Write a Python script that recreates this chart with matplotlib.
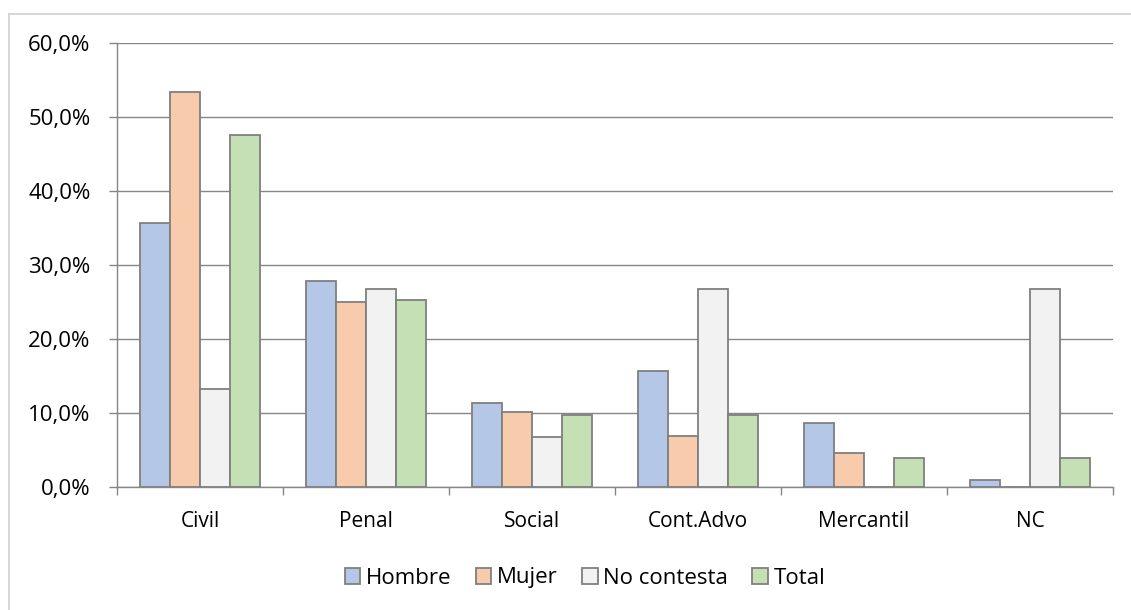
import numpy as np
import matplotlib.pyplot as plt
from matplotlib.lines import Line2D
from matplotlib.ticker import FuncFormatter

plt.rcParams['font.family'] = ['Open Sans', 'DejaVu Sans']

# data (percent)
categories = ['Civil', 'Penal', 'Social', 'Cont.Advo', 'Mercantil', 'NC']
series_names = ['Hombre', 'Mujer', 'No contesta', 'Total']
hombre = [35.7, 27.8, 11.3, 15.7, 8.7, 0.9]
mujer = [53.4, 25.0, 10.2, 6.9, 4.6, 0.0]
no_contesta = [13.3, 26.7, 6.7, 26.7, 0.0, 26.7]
total = [47.6, 25.3, 9.7, 9.7, 3.9, 3.9]
colors = ['#b4c7e7', '#f8cbad', '#f2f2f2', '#c5e0b4']

fig = plt.figure(figsize=(11.31, 6.10), dpi=100)
ax = fig.add_axes([117/1131, 1-487/610, (1113-117)/1131, (487-43)/610])

x = np.arange(len(categories))
w = 0.181
for i, vals in enumerate([hombre, mujer, no_contesta, total]):
    ax.bar(x + (i-1.5)*w, vals, width=w, color=colors[i], edgecolor='#7f7f7f',
           linewidth=1.3, label=series_names[i], zorder=3)

ax.set_xlim(-0.5, len(categories)-0.5)
ax.set_ylim(0, 60)
ax.set_yticks(np.arange(0, 61, 10))
ax.yaxis.set_major_formatter(FuncFormatter(lambda v, p: f'{v:.1f}%'.replace('.', ',')))
ax.set_xticks(x)
ax.set_xticklabels(categories)
ax.set_xticks(np.arange(-0.5, len(categories), 1), minor=True)
ax.tick_params(axis='x', which='major', length=0, pad=17, labelsize=15)
ax.tick_params(axis='x', which='minor', length=6, color='#868686', width=1)
ax.tick_params(axis='y', length=6, color='#868686', width=1, labelsize=16, pad=13)
ax.grid(axis='y', color='#868686', linewidth=1, zorder=0)
for s in ['top', 'right']:
    ax.spines[s].set_visible(False)
for s in ['left', 'bottom']:
    ax.spines[s].set_color('#868686')
    ax.spines[s].set_linewidth(1)

fig.legend(loc='center', bbox_to_anchor=(585/1131, 1-578/610), ncol=4, frameon=False,
           fontsize=16, handlelength=0.7, handleheight=0.7, handletextpad=0.25,
           columnspacing=1.1)

# outer chart border (top and left only visible)
fig.add_artist(Line2D([8.5/1131, 1], [1-14/610, 1-14/610], transform=fig.transFigure,
                      color='#d0d0d0', linewidth=1.2))
fig.add_artist(Line2D([8.5/1131, 8.5/1131], [0, 1-14/610], transform=fig.transFigure,
                      color='#d0d0d0', linewidth=1.2))

plt.savefig('out.png', dpi=100)
